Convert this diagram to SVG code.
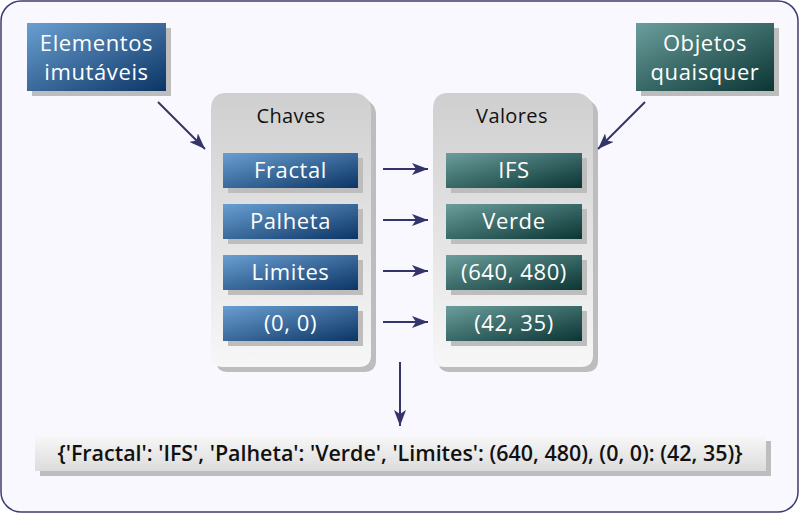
<svg xmlns="http://www.w3.org/2000/svg" width="800" height="514" viewBox="0 0 800 514">
<defs>
<linearGradient id="gBlue" x1="0" y1="0" x2="1" y2="1"><stop offset="0" stop-color="#6a9fd2"/><stop offset="1" stop-color="#0b3565"/></linearGradient>
<linearGradient id="gTeal" x1="0" y1="0" x2="1" y2="1"><stop offset="0" stop-color="#6a9e9c"/><stop offset="1" stop-color="#0a3533"/></linearGradient>
<linearGradient id="gGray" x1="0" y1="0" x2="0" y2="1"><stop offset="0" stop-color="#cfcfcf"/><stop offset="1" stop-color="#f7f7f7"/></linearGradient>
<linearGradient id="gRes" x1="0" y1="0" x2="0" y2="1"><stop offset="0" stop-color="#f7f7f7"/><stop offset="1" stop-color="#dcdcdc"/></linearGradient>
<marker id="arr" viewBox="0 0 16 12" refX="16" refY="6" markerWidth="16" markerHeight="12" markerUnits="userSpaceOnUse" orient="auto">
<path d="M0,0 L16,6 L0,12 L4,6 Z" fill="#34346a"/>
</marker>
</defs>
<style>
.shadow{fill:#bdbdbd}
.lbl{font-family:"Open Sans","DejaVu Sans",sans-serif;font-size:22px;letter-spacing:0.6px;fill:#ffffff;text-anchor:middle}
.title{font-family:"Open Sans","DejaVu Sans",sans-serif;font-size:20px;letter-spacing:0.4px;fill:#111111;text-anchor:middle}
.conn{stroke:#34346a;stroke-width:2;fill:none;marker-end:url(#arr)}
</style>
<rect x="1" y="1" width="797" height="511" rx="20" fill="#f8f8fe" stroke="#3c3c6e" stroke-width="1.5"/>

<g id="elementos">
<rect class="shadow" x="32" y="28" width="139" height="68"/>
<rect x="27" y="23" width="139" height="68" fill="url(#gBlue)"/>
<text class="lbl" x="96.5" y="51">Elementos</text>
<text class="lbl" x="96.5" y="80">imutáveis</text>
</g>

<g id="objetos">
<rect class="shadow" x="641" y="28" width="138" height="68"/>
<rect x="636" y="23" width="138" height="68" fill="url(#gTeal)"/>
<text class="lbl" x="705" y="51">Objetos</text>
<text class="lbl" x="705" y="80">quaisquer</text>
</g>

<g id="chaves">
<path class="shadow" d="M231,98 H359 Q366,98 371,103 L373,105 Q376,109 376,115 V360 Q376,372 364,372 H228 Q216,372 216,360 V115 Q216,98 231,98 Z"/>
<path d="M226,93 H354 Q361,93 366,98 L368,100 Q371,104 371,110 V355 Q371,367 359,367 H223 Q211,367 211,355 V110 Q211,93 226,93 Z" fill="url(#gGray)"/>
<text class="title" x="291" y="123">Chaves</text>
</g>

<g id="valores">
<path class="shadow" d="M453,98 H581 Q588,98 593,103 L595,105 Q598,109 598,115 V360 Q598,372 586,372 H450 Q438,372 438,360 V115 Q438,98 453,98 Z"/>
<path d="M448,93 H576 Q583,93 588,98 L590,100 Q593,104 593,110 V355 Q593,367 581,367 H445 Q433,367 433,355 V110 Q433,93 448,93 Z" fill="url(#gGray)"/>
<text class="title" x="512" y="123">Valores</text>
</g>

<g id="k-fractal"><rect class="shadow" x="228" y="158" width="135" height="35"/><rect x="223" y="153" width="135" height="35" fill="url(#gBlue)"/><text class="lbl" x="290.5" y="178">Fractal</text></g>
<g id="k-palheta"><rect class="shadow" x="228" y="209" width="135" height="35"/><rect x="223" y="204" width="135" height="35" fill="url(#gBlue)"/><text class="lbl" x="290.5" y="229">Palheta</text></g>
<g id="k-limites"><rect class="shadow" x="228" y="260" width="135" height="35"/><rect x="223" y="255" width="135" height="35" fill="url(#gBlue)"/><text class="lbl" x="290.5" y="280">Limites</text></g>
<g id="k-00"><rect class="shadow" x="228" y="311" width="135" height="35"/><rect x="223" y="306" width="135" height="35" fill="url(#gBlue)"/><text class="lbl" x="290.5" y="331">(0, 0)</text></g>

<g id="v-ifs"><rect class="shadow" x="451" y="158" width="136" height="35"/><rect x="446" y="153" width="136" height="35" fill="url(#gTeal)"/><text class="lbl" x="514" y="178">IFS</text></g>
<g id="v-verde"><rect class="shadow" x="451" y="209" width="136" height="35"/><rect x="446" y="204" width="136" height="35" fill="url(#gTeal)"/><text class="lbl" x="514" y="229">Verde</text></g>
<g id="v-640"><rect class="shadow" x="451" y="260" width="136" height="35"/><rect x="446" y="255" width="136" height="35" fill="url(#gTeal)"/><text class="lbl" x="514" y="280">(640, 480)</text></g>
<g id="v-4235"><rect class="shadow" x="451" y="311" width="136" height="35"/><rect x="446" y="306" width="136" height="35" fill="url(#gTeal)"/><text class="lbl" x="514" y="331">(42, 35)</text></g>

<g id="resultado">
<rect class="shadow" x="40" y="441" width="731" height="35"/>
<rect x="35" y="436" width="731" height="35" fill="url(#gRes)"/>
<text x="400" y="461" font-family="'Open Sans','Liberation Sans',sans-serif" font-size="21" font-weight="600" fill="#111111" text-anchor="middle" textLength="685" lengthAdjust="spacingAndGlyphs">{'Fractal': 'IFS', 'Palheta': 'Verde', 'Limites': (640, 480), (0, 0): (42, 35)}</text>
</g>

<g id="connectors">
<line class="conn" x1="158" y1="102" x2="205" y2="149"/>
<line class="conn" x1="645" y1="102" x2="598" y2="149"/>
<line class="conn" x1="383" y1="169" x2="428" y2="169"/>
<line class="conn" x1="383" y1="220" x2="428" y2="220"/>
<line class="conn" x1="383" y1="271" x2="428" y2="271"/>
<line class="conn" x1="383" y1="322" x2="428" y2="322"/>
<line class="conn" x1="400" y1="362" x2="400" y2="426"/>
</g>
</svg>
